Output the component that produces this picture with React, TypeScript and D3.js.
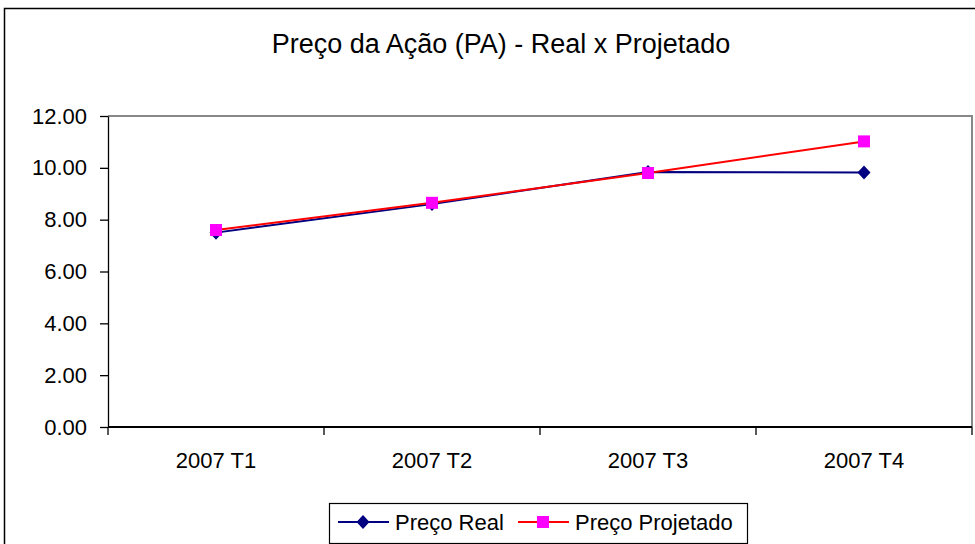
import React, { useEffect, useRef } from 'react';
import * as d3 from 'd3';

const categories = ['2007 T1', '2007 T2', '2007 T3', '2007 T4'];
const precoReal = [7.5, 8.6, 9.84, 9.82];
const precoProjetado = [7.6, 8.65, 9.8, 11.02];
const yTicks = [0, 2, 4, 6, 8, 10, 12];

const App = () => {
	const container = useRef<SVGSVGElement | null>(null);

	useEffect(() => {
		const svg = d3.select(container.current);
		svg.selectAll('*').remove();

		const width = 975;
		const height = 544;
		const font = 'Liberation Sans, Arial, sans-serif';
		const margin = { l: 108, r: 972, t: 116, b: 427 };

		// outer chart border
		svg.append('rect')
			.attr('x', 4.5)
			.attr('y', 8.5)
			.attr('width', width + 10)
			.attr('height', height + 10)
			.attr('fill', 'white')
			.attr('stroke', '#000')
			.attr('stroke-width', 1.5);

		svg.append('text')
			.attr('x', 501)
			.attr('y', 53)
			.attr('text-anchor', 'middle')
			.attr('font-family', font)
			.attr('font-size', 27)
			.text('Preço da Ação (PA) - Real x Projetado');

		const x = d3.scaleBand<string>().domain(categories).range([margin.l, margin.r]);
		const y = d3.scaleLinear().domain([0, 12]).range([margin.b, margin.t]);

		// plot area top/right borders
		svg.append('path')
			.attr('d', `M${margin.l},${margin.t}H${margin.r}V${margin.b}`)
			.attr('fill', 'none')
			.attr('stroke', '#888')
			.attr('stroke-width', 2);

		const yAxis = d3.axisLeft(y)
			.tickValues(yTicks)
			.tickFormat(d3.format('.2f'))
			.tickSize(8)
			.tickPadding(13)
			.tickSizeOuter(0);
		const yg = svg.append('g')
			.attr('transform', `translate(${margin.l},0)`)
			.call(yAxis);
		yg.selectAll('text').attr('font-family', font).attr('font-size', 22).attr('fill', '#000');
		yg.selectAll('line, path').attr('stroke', '#000').attr('stroke-width', 1.3);

		// x axis with ticks between categories
		const xg = svg.append('g').attr('transform', `translate(0,${margin.b})`);
		xg.append('line')
			.attr('x1', margin.l)
			.attr('x2', margin.r)
			.attr('stroke', '#000')
			.attr('stroke-width', 2);
		const edges = categories.map(c => x(c) as number).concat([margin.r]);
		xg.selectAll('.xtick')
			.data(edges)
			.join('line')
			.attr('x1', d => d)
			.attr('x2', d => d)
			.attr('y1', 0)
			.attr('y2', 8)
			.attr('stroke', '#000')
			.attr('stroke-width', 1.3);
		xg.selectAll('.xlabel')
			.data(categories)
			.join('text')
			.attr('x', d => (x(d) as number) + x.bandwidth() / 2)
			.attr('y', 41)
			.attr('text-anchor', 'middle')
			.attr('font-family', font)
			.attr('font-size', 22)
			.text(d => d);

		const cx = (i: number) => (x(categories[i]) as number) + x.bandwidth() / 2;
		const line = d3.line<number>().x((d, i) => cx(i)).y(d => y(d));

		svg.append('path')
			.datum(precoReal)
			.attr('d', line)
			.attr('fill', 'none')
			.attr('stroke', '#000080')
			.attr('stroke-width', 2);
		svg.append('path')
			.datum(precoProjetado)
			.attr('d', line)
			.attr('fill', 'none')
			.attr('stroke', '#ff0000')
			.attr('stroke-width', 2);

		const diamond = (px: number, py: number) => `M${px},${py - 7}L${px + 6.5},${py}L${px},${py + 7}L${px - 6.5},${py}Z`;

		svg.selectAll('.real-pt')
			.data(precoReal)
			.join('path')
			.attr('d', (d, i) => diamond(cx(i), y(d)))
			.attr('fill', '#000080');
		svg.selectAll('.proj-pt')
			.data(precoProjetado)
			.join('rect')
			.attr('x', (d, i) => cx(i) - 6)
			.attr('y', d => y(d) - 6)
			.attr('width', 12)
			.attr('height', 12)
			.attr('fill', '#ff00ff');

		// legend
		const lg = svg.append('g');
		lg.append('rect')
			.attr('x', 329.5)
			.attr('y', 503.5)
			.attr('width', 418)
			.attr('height', 40)
			.attr('fill', 'white')
			.attr('stroke', '#000')
			.attr('stroke-width', 1.2);
		lg.append('line').attr('x1', 338).attr('x2', 389).attr('y1', 522).attr('y2', 522)
			.attr('stroke', '#000080').attr('stroke-width', 2);
		lg.append('path').attr('d', diamond(363, 522)).attr('fill', '#000080');
		lg.append('text').attr('x', 395).attr('y', 530)
			.attr('font-family', font).attr('font-size', 22).text('Preço Real');
		lg.append('line').attr('x1', 518).attr('x2', 569).attr('y1', 522).attr('y2', 522)
			.attr('stroke', '#ff0000').attr('stroke-width', 2);
		lg.append('rect').attr('x', 537).attr('y', 516).attr('width', 12).attr('height', 12).attr('fill', '#ff00ff');
		lg.append('text').attr('x', 575).attr('y', 530)
			.attr('font-family', font).attr('font-size', 22).text('Preço Projetado');
	});

	return (
		<svg
			ref={container}
			width={975}
			height={544}
			style={{ position: 'absolute', left: 0, top: 0, background: 'white' }}
		/>
	);
};

export default App;
